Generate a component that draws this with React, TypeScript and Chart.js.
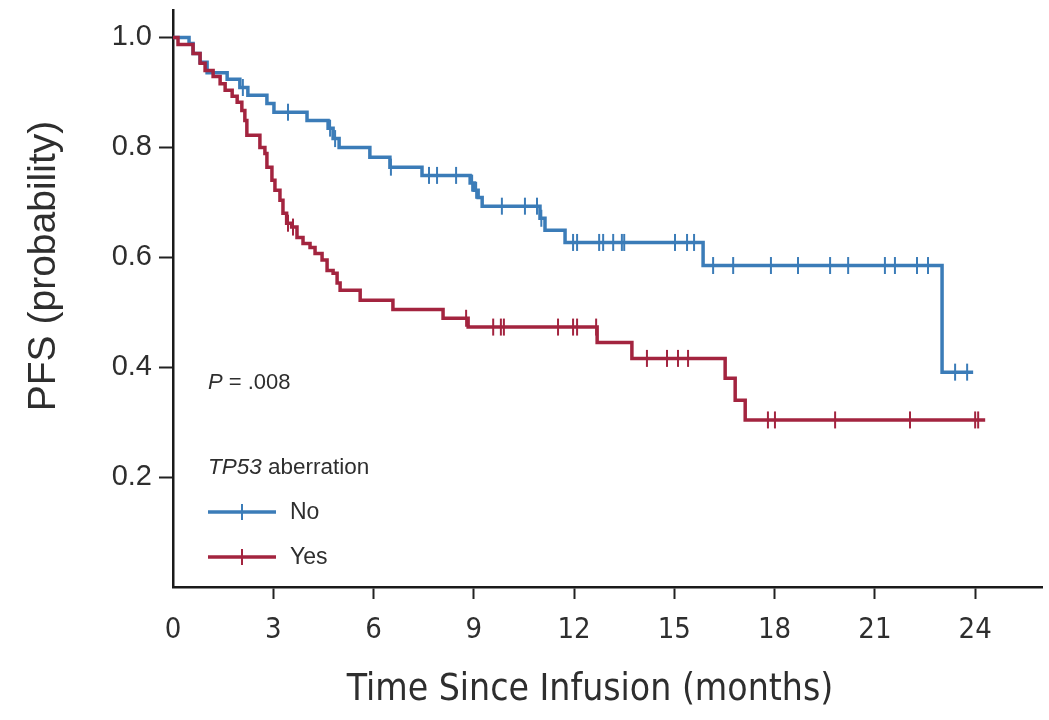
import React, { useEffect, useRef } from "react";
import { Chart, registerables } from "chart.js";

Chart.register(...registerables);

// ---- Data (time in months, PFS probability) ----
const xTickStep = 3; // x ticks: 0, 3, ..., 24
const yTickStep = 0.2; // y ticks: 0.2 ... 1.0

const seriesNames = ["No", "Yes"];

// TP53 aberration: No (blue)
const noEventTimes = [0.48, 0.6, 0.81, 1.02, 1.62, 2.0, 2.24, 2.81, 3.02, 4.01, 4.64, 4.79, 4.97, 5.89, 6.49, 7.45, 8.89, 9.01, 9.13, 9.25, 10.98, 11.13, 11.73, 15.86, 23.01];
const noEventSurv = [0.989, 0.971, 0.955, 0.936, 0.924, 0.909, 0.895, 0.88, 0.864, 0.849, 0.835, 0.816, 0.8, 0.782, 0.764, 0.749, 0.735, 0.722, 0.709, 0.693, 0.671, 0.649, 0.627, 0.585, 0.391];
const noCensorTimes = [2.09, 3.44, 4.7, 4.85, 6.52, 7.66, 7.9, 8.47, 8.95, 9.07, 9.84, 10.53, 10.89, 11.02, 11.97, 12.09, 12.75, 12.87, 13.17, 13.43, 13.5, 15.02, 15.38, 15.59, 16.16, 16.76, 17.89, 18.7, 19.66, 20.2, 21.3, 21.6, 22.26, 22.59, 23.4, 23.76];
const noEndTime = 23.94;

// TP53 aberration: Yes (red)
const yesEventTimes = [0.15, 0.6, 0.81, 0.96, 1.2, 1.41, 1.56, 1.77, 1.92, 2.06, 2.15, 2.21, 2.6, 2.75, 2.81, 2.96, 3.05, 3.2, 3.29, 3.4, 3.55, 3.71, 3.89, 4.1, 4.25, 4.46, 4.61, 4.79, 4.91, 5.0, 5.6, 6.58, 8.08, 8.83, 12.69, 13.73, 16.52, 16.82, 17.12];
const yesEventSurv = [0.987, 0.971, 0.953, 0.94, 0.929, 0.916, 0.904, 0.893, 0.882, 0.867, 0.849, 0.822, 0.8, 0.789, 0.764, 0.74, 0.722, 0.704, 0.68, 0.662, 0.655, 0.636, 0.625, 0.618, 0.607, 0.595, 0.576, 0.571, 0.553, 0.54, 0.522, 0.505, 0.489, 0.473, 0.445, 0.416, 0.38, 0.34, 0.304];
const yesCensorTimes = [3.44, 3.59, 8.77, 9.58, 9.81, 9.9, 11.52, 11.97, 12.09, 12.66, 14.18, 14.78, 15.11, 15.41, 17.8, 18.01, 19.81, 22.05, 24.0, 24.09];
const yesEndTime = 24.3;

const pValueText = ".008";
const legendTitleItalic = "TP53";
const legendTitleRest = " aberration";

const BLUE = "#3b7cb8";
const RED = "#a3243f";
const TEXT = "#2e2e2e";
const SANS = '"Liberation Sans", Arial, sans-serif';
const NARROW = '"Liberation Sans Narrow", "DejaVu Sans Condensed", "Liberation Sans", sans-serif';

type Pt = { x: number; y: number; c: boolean };

function buildCurve(evT: number[], evS: number[], cT: number[], endT: number): Pt[] {
  const raw: { x: number; s: number | null; c: boolean; o: number }[] = [];
  evT.forEach((t, i) => raw.push({ x: t, s: evS[i], c: false, o: 0 }));
  cT.forEach((t) => raw.push({ x: t, s: null, c: true, o: 1 }));
  raw.push({ x: endT, s: null, c: false, o: 2 });
  raw.sort((a, b) => a.x - b.x || a.o - b.o);
  const pts: Pt[] = [{ x: 0, y: 1, c: false }];
  let cur = 1;
  raw.forEach((r) => {
    if (r.s !== null) cur = r.s;
    pts.push({ x: r.x, y: cur, c: r.c });
  });
  return pts;
}

const overlayPlugin = {
  id: "overlay",
  afterDraw(chart: any) {
    const ctx = chart.ctx as CanvasRenderingContext2D;
    const area = chart.chartArea;
    ctx.save();
    ctx.fillStyle = TEXT;
    // axis titles
    ctx.textAlign = "center";
    ctx.textBaseline = "middle";
    ctx.font = "37px " + NARROW;
    ctx.fillText("Time Since Infusion (months)", 590, 690);
    ctx.save();
    ctx.translate(44, 266);
    ctx.rotate(-Math.PI / 2);
    ctx.font = "39px " + SANS;
    ctx.fillText("PFS (probability)", 0, 0);
    ctx.restore();

    // P value
    const lx = area.left + 35;
    ctx.textAlign = "left";
    ctx.font = "italic 22px " + SANS;
    ctx.fillText("P", lx, 383);
    const pw = ctx.measureText("P").width;
    ctx.font = "22px " + SANS;
    ctx.fillText(" = " + pValueText, lx + pw, 383);

    // legend title
    ctx.font = "italic 22.5px " + SANS;
    ctx.fillText(legendTitleItalic, lx, 468);
    const tw = ctx.measureText(legendTitleItalic).width;
    ctx.font = "22.5px " + SANS;
    ctx.fillText(legendTitleRest, lx + tw, 468);

    // legend items
    const items = [
      { label: seriesNames[0], color: BLUE, y: 512 },
      { label: seriesNames[1], color: RED, y: 557 },
    ];
    ctx.font = "23px " + SANS;
    items.forEach((it) => {
      ctx.strokeStyle = it.color;
      ctx.lineWidth = 3.5;
      ctx.beginPath();
      ctx.moveTo(lx, it.y);
      ctx.lineTo(lx + 68, it.y);
      ctx.stroke();
      ctx.lineWidth = 2;
      ctx.beginPath();
      ctx.moveTo(lx + 34, it.y - 8);
      ctx.lineTo(lx + 34, it.y + 8);
      ctx.stroke();
      ctx.fillStyle = TEXT;
      ctx.fillText(it.label, lx + 82, it.y + 1);
    });
    ctx.restore();
  },
};

export default function App() {
  const ref = useRef<HTMLCanvasElement | null>(null);
  useEffect(() => {
    if (!ref.current) return;
    const noPts = buildCurve(noEventTimes, noEventSurv, noCensorTimes, noEndTime);
    const yesPts = buildCurve(yesEventTimes, yesEventSurv, yesCensorTimes, yesEndTime);
    const mk = (label: string, pts: Pt[], color: string) => ({
      label,
      data: pts.map((p) => ({ x: p.x, y: p.y })),
      borderColor: color,
      backgroundColor: color,
      borderWidth: 3.5,
      stepped: "before" as const,
      fill: false,
      pointStyle: "line" as const,
      rotation: 90,
      pointRadius: pts.map((p) => (p.c ? 8.5 : 0)),
      pointHoverRadius: 0,
      pointBorderWidth: 2,
      pointBorderColor: color,
    });
    const chart = new Chart(ref.current, {
      type: "line",
      data: {
        datasets: [mk(seriesNames[1], yesPts, RED), mk(seriesNames[0], noPts, BLUE)],
      },
      options: {
        animation: false,
        responsive: true,
        maintainAspectRatio: false,
        layout: { padding: { top: 10, right: 7, left: 0, bottom: 0 } },
        plugins: { legend: { display: false }, tooltip: { enabled: false } },
        scales: {
          x: {
            type: "linear",
            min: 0,
            max: 26,
            ticks: {
              stepSize: xTickStep,
              includeBounds: false,
              autoSkip: false,
              maxRotation: 0,
              padding: 14,
              color: TEXT,
              font: { family: NARROW, size: 29 },
            },
            grid: {
              drawOnChartArea: false,
              tickLength: 12,
              tickWidth: 2,
              tickColor: (c: any) => (c.tick && c.tick.value === 0 ? "rgba(0,0,0,0)" : "#222"),
            },
            border: { color: "#1a1a1a", width: 2.5 },
            afterFit: (s: any) => {
              s.height = 133;
              s.paddingLeft = 0;
              s.paddingRight = 0;
            },
          },
          y: {
            type: "linear",
            min: 0,
            max: 1.05,
            afterBuildTicks: (s: any) => {
              s.ticks = s.ticks.filter((t: any) => t.value > 0.01 && t.value < 1.001);
            },
            ticks: {
              stepSize: yTickStep,
              includeBounds: false,
              padding: 7,
              color: TEXT,
              callback: (v: any) => Number(v).toFixed(1),
              font: { family: SANS, size: 29 },
            },
            grid: { drawOnChartArea: false, tickLength: 14, tickWidth: 2, tickColor: "#222" },
            border: { color: "#1a1a1a", width: 2.5 },
            afterFit: (s: any) => {
              s.width = 173;
              s.paddingTop = 0;
              s.paddingBottom = 0;
            },
          },
        },
      },
      plugins: [overlayPlugin],
    } as any);
    return () => chart.destroy();
  }, []);
  return (
    <div style={{ position: "fixed", left: 0, top: 0, width: 1049, height: 720, background: "#fff" }}>
      <canvas ref={ref} />
    </div>
  );
}
